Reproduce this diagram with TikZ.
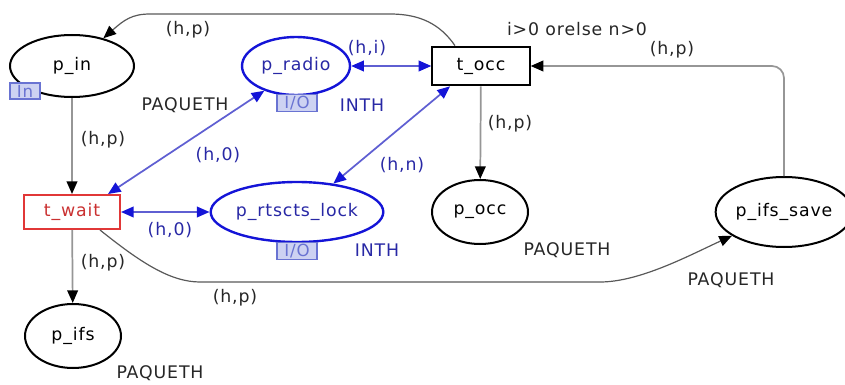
\documentclass[tikz,border=0pt]{standalone}
\usepackage{fontspec}
\setmainfont[LetterSpace=5]{DejaVu Sans}
\usetikzlibrary{shapes.geometric,arrows.meta,calc}
\definecolor{cpnblue}{RGB}{20,20,215}
\definecolor{arcblue}{RGB}{95,95,210}
\definecolor{txtblue}{RGB}{40,40,165}
\definecolor{tagfill}{RGB}{205,210,242}
\definecolor{tagline}{RGB}{105,115,210}
\definecolor{arcgray}{RGB}{150,150,150}
\definecolor{cpnred}{RGB}{225,55,55}
\tikzset{
  place/.style={ellipse, draw=black, line width=1.5pt, inner sep=0pt},
  bplace/.style={place, draw=cpnblue, line width=1.8pt, text=txtblue},
  trans/.style={rectangle, draw=black, line width=1.5pt, inner sep=0pt, minimum width=73pt, minimum height=29pt},
  iotag/.style={rectangle, draw=tagline, fill=tagfill, line width=0.9pt, text=tagline, inner sep=0pt, font=\fontsize{12.5pt}{13pt}\selectfont},
  arc/.style={draw=arcgray, line width=1.3pt, -{Triangle[length=9.5pt,width=8pt,color=black]}},
  darc/.style={draw=black!65, line width=0.9pt, -{Triangle[length=9.5pt,width=8pt,color=black]}},
  biarc/.style={draw=arcblue, line width=1.3pt, {Triangle[length=9.5pt,width=8pt,color=cpnblue]}-{Triangle[length=9.5pt,width=8pt,color=cpnblue]}},
  lbl/.style={inner sep=0pt, text=black!85},
  blbl/.style={inner sep=0pt, text=txtblue}
}
\begin{document}
\begin{tikzpicture}[x=0.75pt, y=-0.75pt, font=\fontsize{13pt}{15pt}\selectfont]
\useasboundingbox (0,0) rectangle (845,385);
% places
\node[place, minimum width=93pt, minimum height=46.5pt] (p_in) at (72,66) {p\_in};
\node[bplace, minimum width=81pt, minimum height=43.5pt] (p_radio) at (296,66) {p\_radio};
\node[bplace, minimum width=112.5pt, minimum height=45pt] (p_rtscts_lock) at (297,212) {p\_rtscts\_lock};
\node[place, minimum width=72pt, minimum height=48pt] (p_occ) at (480,212) {p\_occ};
\node[place, minimum width=72pt, minimum height=48pt] (p_ifs) at (73,336) {p\_ifs};
\node[place, minimum width=90pt, minimum height=52.5pt] (p_ifs_save) at (784,212) {p\_ifs\_save};
% port tags
\node[iotag, minimum width=22.5pt, minimum height=12pt] (tag_in) at (25,91) {In};
\node[iotag, minimum width=30pt, minimum height=13pt] (tag_radio) at (297,103) {I/O};
\node[iotag, minimum width=30pt, minimum height=13pt] (tag_lock) at (297,251) {I/O};
% transitions
\node[trans] (t_occ) at (481,66) {t\_occ};
\node[trans, draw=cpnred, text=cpnred!90!black, minimum width=72pt, minimum height=25.5pt] (t_wait) at (72,212) {t\_wait};
% corner points
\coordinate (top_r) at (390,14);
\coordinate (top_l) at (150,14);
\coordinate (bot_l) at (200,282);
\coordinate (bot_r) at (600,282);
% arcs
\draw[darc] ($(t_occ.north)+(-26,0)$) .. controls (440,24) and (420,14) .. (top_r) -- (top_l) .. controls (132,14) and (124,20) .. (p_in);
\draw[arc] (p_in) -- (t_wait);
\draw[arc] (t_wait) -- (p_ifs);
\draw[arc] (t_occ) -- (p_occ);
\draw[arc, rounded corners=9pt] (p_ifs_save) |- (t_occ);
\draw[darc] ($(t_wait.south)+(28,0)$) .. controls (140,262) and (170,282) .. (bot_l) -- (bot_r) .. controls (640,282) and (690,255) .. (p_ifs_save);
\draw[biarc] (p_radio) -- (t_occ);
\draw[biarc] ($(t_wait.north)+(36,0)$) -- (p_radio.218);
\draw[biarc] ($(t_occ.south)+(-31,0)$) -- (p_rtscts_lock.38);
\draw[biarc] (t_wait) -- (p_rtscts_lock);
% inscriptions
\node[lbl] at (188,30) {(h,p)};
\node[lbl] at (185,105) {PAQUETH};
\node[blbl] at (367,48) {(h,i)};
\node[blbl] at (362,105) {INTH};
\node[lbl] at (577,29) {i>0 orelse n>0};
\node[lbl] at (672,50) {(h,p)};
\node[lbl] at (510,124) {(h,p)};
\node[blbl] at (402,165) {(h,n)};
\node[blbl] at (218,155) {(h,0)};
\node[lbl] at (103,140) {(h,p)};
\node[blbl] at (170,230) {(h,0)};
\node[blbl] at (377,250) {INTH};
\node[lbl] at (567,250) {PAQUETH};
\node[lbl] at (103,263) {(h,p)};
\node[lbl] at (235,298) {(h,p)};
\node[lbl] at (731,280) {PAQUETH};
\node[lbl] at (160,373) {PAQUETH};
\end{tikzpicture}
\end{document}
